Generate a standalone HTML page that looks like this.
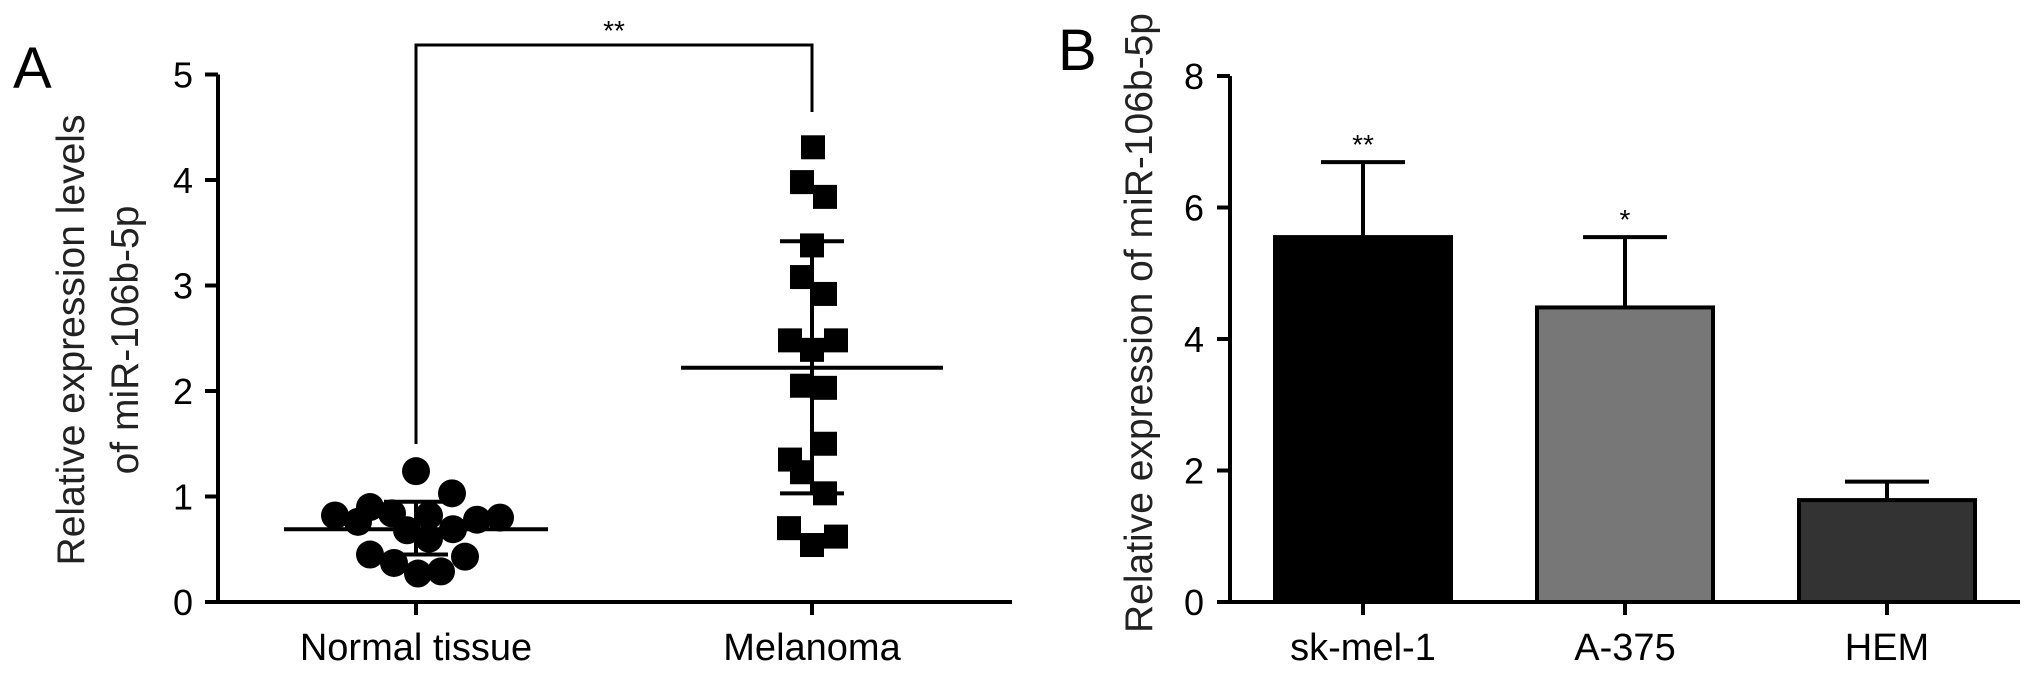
<!DOCTYPE html>
<html><head><meta charset="utf-8"><style>
html,body{margin:0;padding:0;background:#fff;}
svg{display:block;font-family:"Liberation Sans",Arial,sans-serif;}
</style></head><body>
<svg id="fig" width="2031" height="675" viewBox="0 0 2031 675" xmlns="http://www.w3.org/2000/svg">
<g id="pa"></g>
<g id="pb"></g>
</svg>
<script>
// Panel A data
const aCategories = ["Normal tissue", "Melanoma"];
const aYTicks = [0, 1, 2, 3, 4, 5];
const normalValues = [1.24,1.03,0.82,0.90,0.76,0.84,0.82,0.78,0.80,0.68,0.69,0.60,0.45,0.43,0.37,0.27,0.29];
const normalOffsets = [0,36,-81,-46,-58,-24,13,61,84,-9,37,13,-46,49,-22,2,25];
const melanomaValues = [4.31,3.98,3.84,3.38,3.08,2.92,2.48,2.48,2.39,2.05,2.03,1.50,1.35,1.23,1.03,0.70,0.62,0.54];
const melanomaOffsets = [1,-10,13,0,-10,13,-22,24,0,-10,13,13,-22,-10,13,-23,24,0];
const aMeans = [0.69, 2.22];
const aSdLow = [0.45, 1.03];
const aSdHigh = [0.95, 3.42];
// Panel B data
const bCategories = ["sk-mel-1", "A-375", "HEM"];
const bValues = [5.55, 4.48, 1.55];
const bErrors = [6.69, 5.55, 1.83];
const bStars = ["**", "*", ""];
const bColors = ["#000000", "#777777", "#333333"];
const bYTicks = [0, 2, 4, 6, 8];

const NS = "http://www.w3.org/2000/svg";
function mk(parent, tag, attrs, text){
  const e = document.createElementNS(NS, tag);
  for (const k in attrs) e.setAttribute(k, attrs[k]);
  if (text !== undefined) e.textContent = text;
  parent.appendChild(e);
  return e;
}
const pa = document.getElementById('pa');
const pb = document.getElementById('pb');

// ---------- Panel A ----------
const aY0 = 602, aUnit = 105.5;
const ay = v => aY0 - v * aUnit;
const aX = [416, 812];
let t;
t = mk(pa, 'text', {x: 13, y: 88, 'font-size': 58}, 'A');


let l = mk(pa, 'line', {x1: 218, y1: ay(5), x2: 218, y2: aY0 + 2, stroke: '#000', 'stroke-width': 4});


l = mk(pa, 'line', {x1: 207, y1: aY0, x2: 1012, y2: aY0, stroke: '#000', 'stroke-width': 4});


aYTicks.forEach(v => {
  const tk = mk(pa, 'line', {x1: 205, y1: ay(v), x2: 218, y2: ay(v), stroke: '#000', 'stroke-width': 4});
  
  
  const tl = mk(pa, 'text', {x: 193, y: ay(v) + 13, 'font-size': 36, 'text-anchor': 'end'}, String(v));
  
  
});
aCategories.forEach((c, i) => {
  const tk = mk(pa, 'line', {x1: aX[i], y1: aY0, x2: aX[i], y2: aY0 + 13, stroke: '#000', 'stroke-width': 4});
  
  
  const tl = mk(pa, 'text', {x: aX[i], y: 660, 'font-size': 38, 'text-anchor': 'middle'}, c);
  
  
});
const yt = mk(pa, 'text', {transform: 'translate(84,340) rotate(-90)', 'font-size': 39, 'text-anchor': 'middle', fill: '#222'});


mk(yt, 'tspan', {x: 0, y: 0}, 'Relative expression levels');
mk(yt, 'tspan', {x: 0, y: 54}, 'of miR-106b-5p');
// significance bracket
const br = mk(pa, 'path', {d: `M${aX[0]},444 V45 H${aX[1]} V112`, fill: 'none', stroke: '#000', 'stroke-width': 3});


t = mk(pa, 'text', {x: (aX[0] + aX[1]) / 2, y: 40, 'font-size': 28, 'text-anchor': 'middle'}, '**');


normalValues.forEach((v, i) => {
  const c = mk(pa, 'circle', {cx: aX[0] + normalOffsets[i], cy: ay(v), r: 14, fill: '#000'});
  
  
});
melanomaValues.forEach((v, i) => {
  const r = mk(pa, 'rect', {x: aX[1] + melanomaOffsets[i] - 12, y: ay(v) - 12, width: 24, height: 24, fill: '#000'});
  
  
});
const meanHalf = [132, 131];
aCategories.forEach((c, i) => {
  const m = mk(pa, 'line', {x1: aX[i] - meanHalf[i], y1: ay(aMeans[i]), x2: aX[i] + meanHalf[i], y2: ay(aMeans[i]), stroke: '#000', 'stroke-width': 4});
  
  
  const s = mk(pa, 'path', {d: `M${aX[i]},${ay(aSdLow[i])} V${ay(aSdHigh[i])} M${aX[i]-32},${ay(aSdLow[i])} H${aX[i]+32} M${aX[i]-32},${ay(aSdHigh[i])} H${aX[i]+32}`, fill: 'none', stroke: '#000', 'stroke-width': 4});
  
  
});

// ---------- Panel B ----------
const bY0 = 602, bUnit = 65.75;
const by = v => bY0 - v * bUnit;
const bX = [1363, 1625, 1887];
const bW = 176;
t = mk(pb, 'text', {x: 1058, y: 70, 'font-size': 58}, 'B');


bValues.forEach((v, i) => {
  const e = mk(pb, 'path', {d: `M${bX[i]},${by(v)} V${by(bErrors[i])} M${bX[i]-42},${by(bErrors[i])} H${bX[i]+42}`, fill: 'none', stroke: '#000', 'stroke-width': 4});
  
  
  const r = mk(pb, 'rect', {x: bX[i] - bW/2, y: by(v), width: bW, height: bY0 - by(v), fill: bColors[i], stroke: '#000', 'stroke-width': 4});
  
  
  if (bStars[i]) {
    const s = mk(pb, 'text', {x: bX[i], y: by(bErrors[i]) - 8, 'font-size': 28, 'text-anchor': 'middle'}, bStars[i]);
    
    
  }
  const tk = mk(pb, 'line', {x1: bX[i], y1: bY0, x2: bX[i], y2: bY0 + 13, stroke: '#000', 'stroke-width': 4});
  
  
  const tl = mk(pb, 'text', {x: bX[i], y: 660, 'font-size': 38, 'text-anchor': 'middle'}, bCategories[i]);
  
  
});
l = mk(pb, 'line', {x1: 1230, y1: by(8), x2: 1230, y2: bY0 + 2, stroke: '#000', 'stroke-width': 4});


l = mk(pb, 'line', {x1: 1222, y1: bY0, x2: 2020, y2: bY0, stroke: '#000', 'stroke-width': 4});


bYTicks.forEach(v => {
  const tk = mk(pb, 'line', {x1: 1217, y1: by(v), x2: 1230, y2: by(v), stroke: '#000', 'stroke-width': 4});
  
  
  const tl = mk(pb, 'text', {x: 1204, y: by(v) + 13, 'font-size': 36, 'text-anchor': 'end'}, String(v));
  
  
});
t = mk(pb, 'text', {transform: 'translate(1152,323) rotate(-90)', 'font-size': 39, 'text-anchor': 'middle', fill: '#222'}, 'Relative expression of miR-106b-5p');


</script>
</body></html>
